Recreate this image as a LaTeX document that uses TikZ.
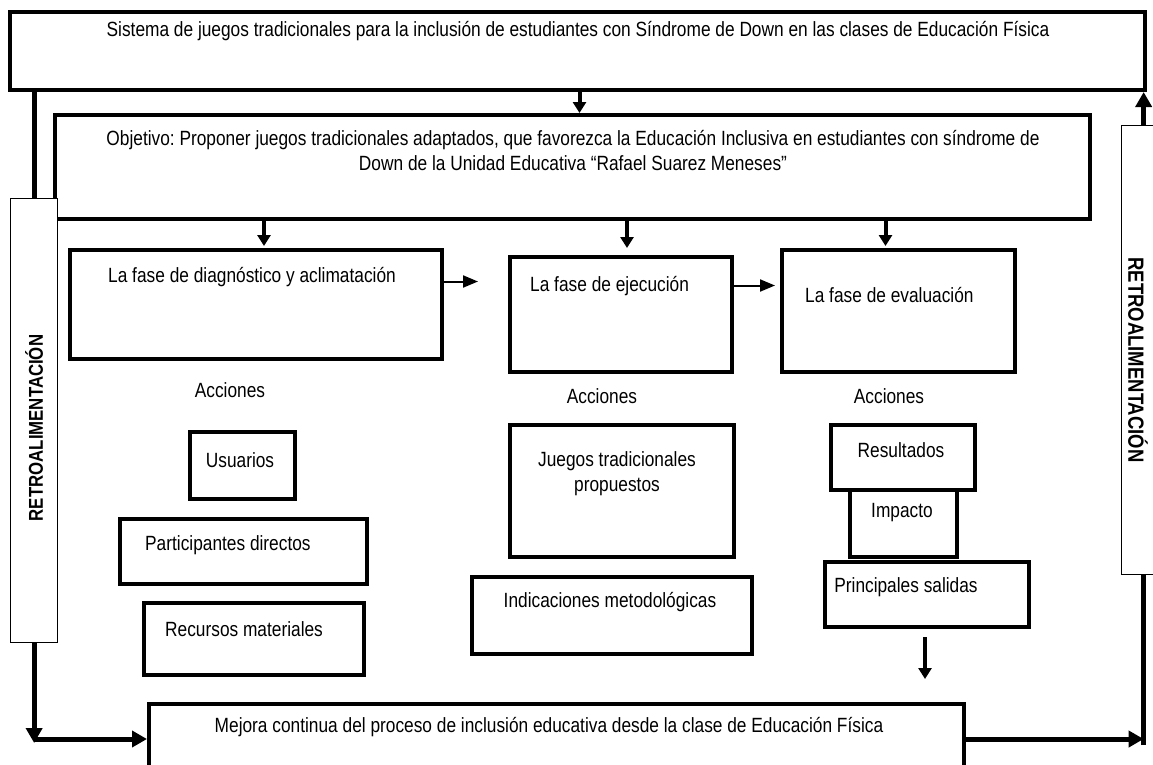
\documentclass[tikz,border=0pt]{standalone}
\usepackage{fontspec}
\setmainfont{Liberation Sans}[FakeStretch=0.84]
\frenchspacing
\usetikzlibrary{arrows.meta,positioning}
\tikzset{
  caja/.style={draw, line width=4pt, inner sep=0pt, anchor=north west},
  retro/.style={draw, line width=1.3pt, fill=white, inner sep=0pt, anchor=north west},
  txt/.style={font=\fontsize{20.6}{25}\selectfont, inner sep=0pt, align=center},
  rtxt/.style={font=\fontsize{20}{24}\selectfont\bfseries, inner sep=0pt},
  flecha/.style={line width=2pt, -{Triangle[length=15pt,width=12pt]}},
  bajada/.style={line width=4pt, -{Triangle[length=11pt,width=13pt]}},
  gruesa/.style={line width=5pt},
  punta/.style={-{Triangle[length=15pt,width=16pt]}},
}
\begin{document}
\begin{tikzpicture}[x=1pt,y=-1pt]
\useasboundingbox (0,0) rectangle (1153,764);
\node[caja, minimum width=1135pt, minimum height=78pt] (sistema) at (8,10) {};
\node[caja, minimum width=1035pt, minimum height=104pt] (objetivo) at (53,113) {};
\node[caja, minimum width=372pt, minimum height=109pt] (diag) at (68,248) {};
\node[caja, minimum width=222pt, minimum height=115pt] (ejec) at (508,255) {};
\node[caja, minimum width=233pt, minimum height=122pt] (eval) at (780,248) {};
\node[caja, minimum width=105pt, minimum height=67pt] (usuarios) at (188,430) {};
\node[caja, minimum width=247pt, minimum height=65pt] (particip) at (118,517) {};
\node[caja, minimum width=220pt, minimum height=72pt] (recursos) at (142,601) {};
\node[caja, minimum width=224pt, minimum height=132pt] (juegos) at (508,423) {};
\node[caja, minimum width=280pt, minimum height=77pt] (indica) at (470,575) {};
\node[caja, minimum width=144pt, minimum height=65pt] (result) at (829,423) {};
\node[caja, minimum width=107pt, minimum height=67pt] (impacto) at (848,488) {};
\node[caja, minimum width=204pt, minimum height=65pt] (salidas) at (823,560) {};
\node[caja, minimum width=815pt, minimum height=70pt] (mejora) at (147,702) {};
\node[retro, minimum width=47pt, minimum height=444pt] (retroizq) at (10,198) {};
\node[retro, minimum width=44pt, minimum height=449pt] (retroder) at (1121,125) {};
\coordinate (fin) at (925,679);

\node[txt] (tsistema) at (578,31) {Sistema de juegos tradicionales para la inclusión de estudiantes con Síndrome de Down en las clases de Educación Física};
\node[txt] (tobjetivo) at (573,151) {Objetivo: Proponer juegos tradicionales adaptados, que favorezca la Educación Inclusiva en estudiantes con síndrome de\\Down de la Unidad Educativa “Rafael Suarez Meneses”};
\node[txt, anchor=west] (tdiag) at (108,277) {La fase de diagnóstico y aclimatación};
\node[txt, anchor=west] (tejec) at (530,286) {La fase de ejecución};
\node[txt, anchor=west] (teval) at (805,295) {La fase de evaluación};
\node[txt] (acc1) at (230,390) {Acciones};
\node[txt] (acc2) at (602,396) {Acciones};
\node[txt] (acc3) at (889,396) {Acciones};
\node[txt] (tusuarios) at (240,460) {Usuarios};
\node[txt, anchor=west] (tparticip) at (145,545) {Participantes directos};
\node[txt, anchor=west] (trecursos) at (165,629) {Recursos materiales};
\node[txt] (tjuegos) at (617,474) {Juegos tradicionales\\propuestos};
\node[txt] (tindica) at (610,602) {Indicaciones metodológicas};
\node[txt] (tresult) at (901,450) {Resultados};
\node[txt] (timpacto) at (902,513) {Impacto};
\node[txt] (tsalidas) at (906,587) {Principales salidas};
\node[txt] (tmejora) at (549,727) {Mejora continua del proceso de inclusión educativa desde la clase de Educación Física};
\node[rtxt, rotate=90] (tretroizq) at (34,428) {RETROALIMENTACIÓN};
\node[rtxt, rotate=-90, font=\fontsize{22}{24}\selectfont\bfseries] (tretroder) at (1138,360) {RETROALIMENTACIÓN};

\draw[bajada] ([xshift=2]sistema.south) -- ([xshift=2]sistema.south |- objetivo.north);
\draw[bajada] ([xshift=8]diag.north |- objetivo.south) -- ([xshift=8,yshift=2]diag.north);
\draw[bajada] ([xshift=6]ejec.north |- objetivo.south) -- ([xshift=6,yshift=7]ejec.north);
\draw[bajada] ([xshift=-13]eval.north |- objetivo.south) -- ([xshift=-13,yshift=2]eval.north);
\draw[flecha, shorten >=30pt] ([yshift=23]diag.east) -- ([yshift=23]diag.east -| ejec.west);
\draw[flecha, shorten >=5pt] ([yshift=29]ejec.east) -- ([yshift=29]ejec.east -| eval.west);
\draw[bajada, shorten <=8pt] (salidas.south -| fin) -- (fin);

\draw[gruesa] (retroizq.north |- sistema.south) -- (retroizq.north);
\draw[gruesa, punta] (retroizq.south) -- ([yshift=-4]retroizq.south |- mejora.west);
\draw[gruesa, punta] (retroizq.south |- mejora.west) -- (mejora.west);
\draw[gruesa, punta] (mejora.east) -- (retroder.south |- mejora.east);
\draw[gruesa] ([yshift=-6]retroder.south |- mejora.east) -- (retroder.south);
\draw[gruesa, punta] (retroder.north) -- (retroder.north |- sistema.south);
\end{tikzpicture}
\end{document}
